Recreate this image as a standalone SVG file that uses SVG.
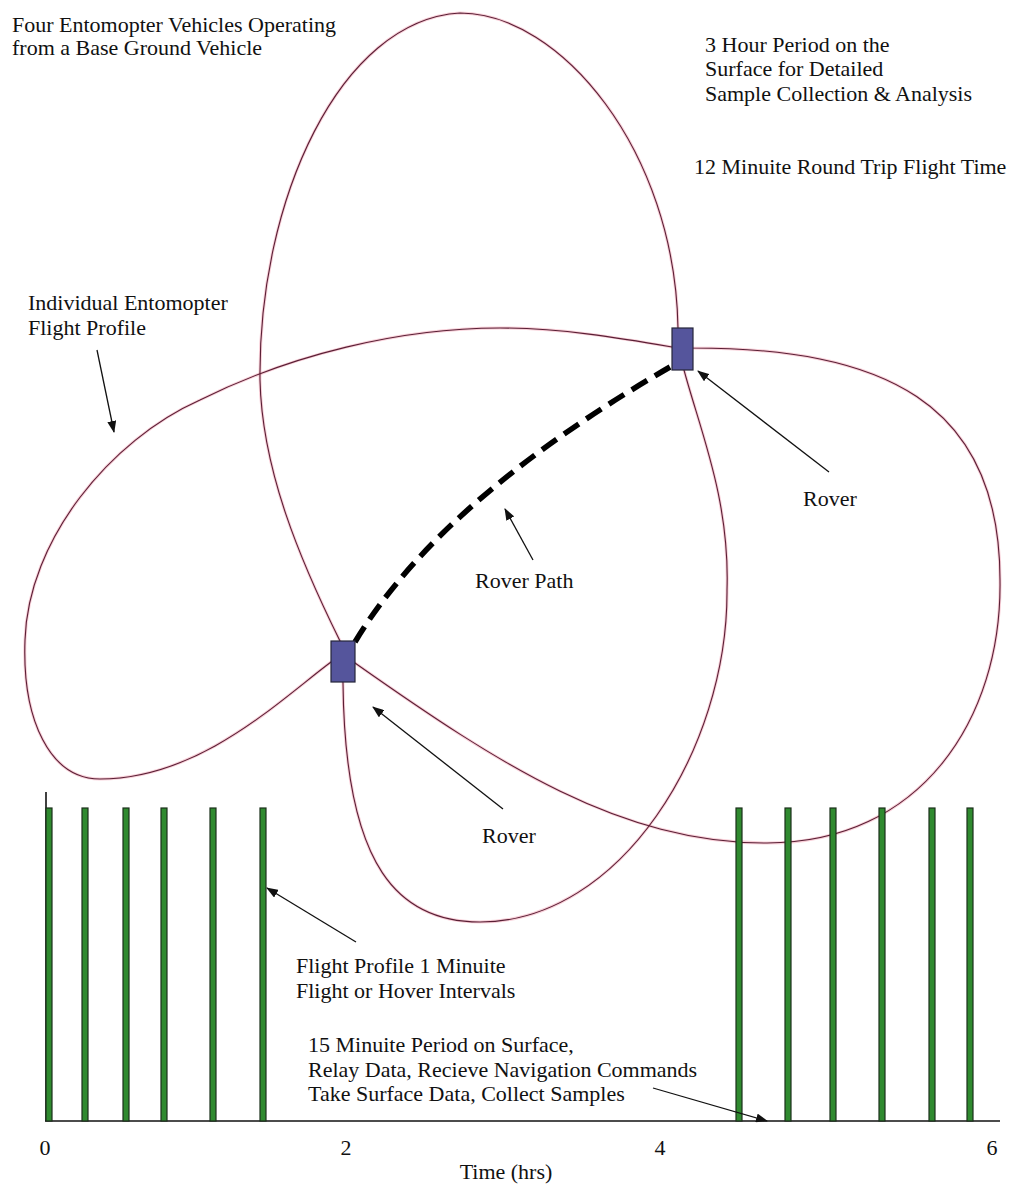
<svg xmlns="http://www.w3.org/2000/svg" width="1009" height="1186" viewBox="0 0 1009 1186">
<style>
text{font-family:"Liberation Serif","Times New Roman",serif;font-size:22px;fill:#111}
.halo{fill:none;stroke:#f2a8b8;stroke-width:3;opacity:.55}
.loop{fill:none;stroke:#5a1f35;stroke-width:1.1}
.bar{fill:#2f8a2f;stroke:#1c301c;stroke-width:1.2}
.rover{fill:#55559c;stroke:#26263a;stroke-width:1.2}
.ptr{fill:none;stroke:#111;stroke-width:1.3;marker-end:url(#ah)}
.axis{stroke:#111;stroke-width:1.6;fill:none}
</style>
<defs>
<marker id="ah" markerUnits="userSpaceOnUse" markerWidth="12" markerHeight="9" refX="11" refY="4.5" orient="auto">
<path d="M0,0 L12,4.5 L0,9 z" fill="#111"/>
</marker>
<path id="loopV" d="M340,641 C300,560 262,470 260,380 C258,200 340,20 460,13 C560,13 675,150 678,328 L684,370 C700,430 730,500 727,590 C728,750 620,922 480,922 C400,922 345,870 343,683 Z"/>
<path id="loopH" d="M331,662 C280,700 200,779 100,779 C50,779 22,720 25,640 C28,540 110,440 200,400 C290,355 400,328 500,328 C560,328 620,338 672,347 L693,348 C880,348 1000,400 1000,580 C1002,720 920,843 767,843 C620,843 500,765 355,663 Z"/>
</defs>

<g id="flight-profiles">
<use href="#loopV" class="halo"/>
<use href="#loopH" class="halo"/>
<use href="#loopV" class="loop"/>
<use href="#loopH" class="loop"/>
</g>

<g id="rover-path">
<path d="M355,642 Q440,500 670,367" fill="none" stroke="#000" stroke-width="5.5" stroke-dasharray="18 9"/>
</g>

<g id="rover-1"><rect class="rover" x="331" y="641" width="24" height="41"/></g>
<g id="rover-2"><rect class="rover" x="672" y="328" width="21" height="42"/></g>

<g id="timeline">
<line class="axis" x1="46" y1="792" x2="46" y2="1121"/>
<line class="axis" x1="45" y1="1121" x2="1000" y2="1121"/>
<rect class="bar" x="46" y="808" width="6" height="313"/>
<rect class="bar" x="82" y="808" width="6" height="313"/>
<rect class="bar" x="123" y="808" width="6" height="313"/>
<rect class="bar" x="161" y="808" width="6" height="313"/>
<rect class="bar" x="210" y="808" width="6" height="313"/>
<rect class="bar" x="260" y="808" width="6" height="313"/>
<rect class="bar" x="736" y="808" width="6" height="313"/>
<rect class="bar" x="785" y="808" width="6" height="313"/>
<rect class="bar" x="830" y="808" width="6" height="313"/>
<rect class="bar" x="879" y="808" width="6" height="313"/>
<rect class="bar" x="929" y="808" width="6" height="313"/>
<rect class="bar" x="967" y="808" width="6" height="313"/>
<text x="45" y="1155" text-anchor="middle">0</text>
<text x="346" y="1155" text-anchor="middle">2</text>
<text x="660" y="1155" text-anchor="middle">4</text>
<text x="992" y="1155" text-anchor="middle">6</text>
<text x="506" y="1179" text-anchor="middle">Time (hrs)</text>
</g>

<g id="connectors">
<line class="ptr" x1="97" y1="350" x2="114" y2="432"/>
<line class="ptr" x1="533" y1="560" x2="505" y2="509"/>
<line class="ptr" x1="829" y1="472" x2="698" y2="371"/>
<line class="ptr" x1="503" y1="809" x2="373" y2="707"/>
<line class="ptr" x1="356" y1="942" x2="267" y2="888"/>
<line class="ptr" x1="653" y1="1088" x2="767" y2="1121"/>
</g>

<g id="labels">
<text x="12" y="32">Four Entomopter Vehicles Operating</text>
<text x="12" y="55">from a Base Ground Vehicle</text>
<text x="705" y="52">3 Hour Period on the</text>
<text x="705" y="76">Surface for Detailed</text>
<text x="705" y="101">Sample Collection &amp; Analysis</text>
<text x="694" y="174">12 Minuite Round Trip Flight Time</text>
<text x="28" y="310">Individual Entomopter</text>
<text x="28" y="335">Flight Profile</text>
<text x="803" y="506">Rover</text>
<text x="475" y="588">Rover Path</text>
<text x="482" y="843">Rover</text>
<text x="296" y="973">Flight Profile 1 Minuite</text>
<text x="296" y="998">Flight or Hover Intervals</text>
<text x="308" y="1052">15 Minuite Period on Surface,</text>
<text x="308" y="1077">Relay Data, Recieve Navigation Commands</text>
<text x="308" y="1101">Take Surface Data, Collect Samples</text>
</g>
</svg>
